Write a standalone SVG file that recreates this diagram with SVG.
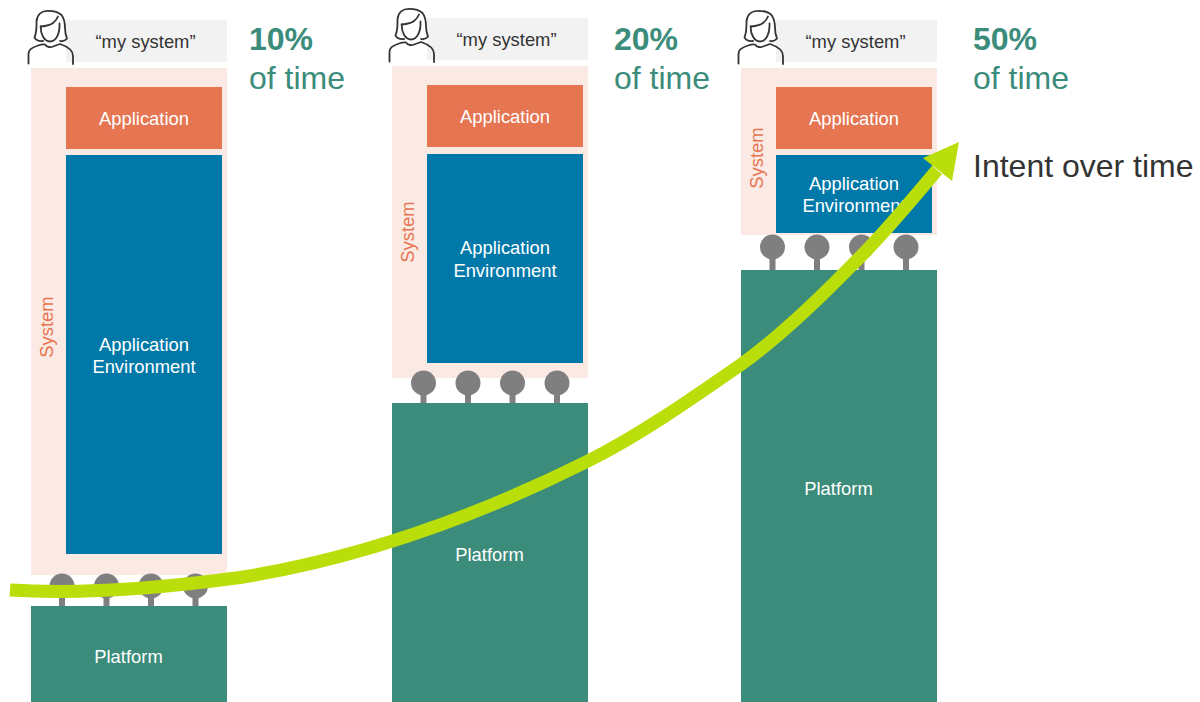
<svg xmlns="http://www.w3.org/2000/svg" width="1200" height="702" viewBox="0 0 1200 702">
<defs>
<style>
text{font-family:"Liberation Sans",Arial,sans-serif}
.l{font-size:18.4px;fill:#fff;text-anchor:middle}
.sys{font-size:18.4px;fill:#e67552;text-anchor:middle}
.q{font-size:18.4px;fill:#333;text-anchor:middle}
.pct{font-size:32px;font-weight:bold;fill:#3b8c7a}
.tm{font-size:32px;fill:#3b8c7a}
.bg{fill:#fbe9e3}.app{fill:#e67552}.env{fill:#0079a8}.pf{fill:#3b8c7a}.lab{fill:#f2f2f2}
.pin{fill:#7f7f7f}
.p{fill:none;stroke:#333;stroke-width:1.8;stroke-linecap:round;stroke-linejoin:round}
</style>
<g id="pins"><circle cx="0" cy="0" r="12.5" class="pin"/><rect x="-3" y="10" width="6" height="13" class="pin"/>
<circle cx="44.500" cy="0" r="12.500" class="pin"/><rect x="41.500" y="10" width="6" height="13" class="pin"/>
<circle cx="89" cy="0" r="12.500" class="pin"/><rect x="86" y="10" width="6" height="13" class="pin"/>
<circle cx="133.500" cy="0" r="12.500" class="pin"/><rect x="130.500" y="10" width="6" height="13" class="pin"/></g>
<g id="person">
<path class="p" d="M28.500 63.500V54C28.500 50 31 48 38 45.500C41 44.500 43 44 45 44.500C47 47.500 51 47.500 53 46.500L60 44C66 46 73 50 73 56V64"/>
<path class="p" d="M43 41C39 41.500 36 40 34.500 37.500C37 31 36.500 26 36.500 21.500C37 14 42 10.800 48 10.800C54 10.800 58 11.500 61.500 15C64.500 19 65 24 65 28C65 32 66 36 67 38.500C65 41 62 41.500 60 41"/>
<path class="p" d="M40.700 26.500C40.500 34 44 41.500 50 41.500C56 41.500 60 34 59.500 23.500"/>
<path class="p" d="M40.700 26.500C46 26 50 25.500 53 23C55.500 21 57 19 58 16.500"/>
</g>
</defs>
<g id="col1">
<rect id="n1-label" x="66" y="20" width="161" height="42" class="lab"/><text class="q" x="145.500" y="48">“my system”</text>
<use href="#person"/>
<rect x="31" y="68" width="196" height="507" class="bg"/>
<rect x="66" y="87" width="156" height="62" class="app"/><text class="l" x="144" y="125">Application</text>
<rect x="66" y="155" width="156" height="399" class="env"/><text class="l" x="144" y="351">Application</text><text class="l" x="144" y="373">Environment</text>
<text class="sys" transform="translate(53 327) rotate(-90)">System</text>
<use href="#pins" x="62" y="586"/>
<rect x="31" y="606" width="196" height="96" class="pf"/><text class="l" x="128.500" y="663">Platform</text>
<text class="pct" x="249" y="50">10%</text><text class="tm" x="249" y="89">of time</text>
</g>
<g id="col2">
<rect x="427" y="18" width="161" height="42" class="lab"/><text class="q" x="506.500" y="46">“my system”</text>
<use href="#person" x="361" y="-2"/>
<rect x="392" y="66" width="196" height="312" class="bg"/>
<rect x="427" y="85" width="156" height="62" class="app"/><text class="l" x="505" y="123">Application</text>
<rect x="427" y="154" width="156" height="209" class="env"/><text class="l" x="505" y="254">Application</text><text class="l" x="505" y="277">Environment</text>
<text class="sys" transform="translate(414 232) rotate(-90)">System</text>
<use href="#pins" x="423.500" y="383"/>
<rect x="392" y="403" width="196" height="299" class="pf"/><text class="l" x="489.500" y="561">Platform</text>
<text class="pct" x="614" y="50">20%</text><text class="tm" x="614" y="89">of time</text>
</g>
<g id="col3">
<rect x="776" y="20" width="161" height="42" class="lab"/><text class="q" x="855.500" y="48">“my system”</text>
<use href="#person" x="710"/>
<rect x="741" y="68" width="196" height="167" class="bg"/>
<rect x="776" y="87" width="156" height="62" class="app"/><text class="l" x="854" y="125">Application</text>
<rect x="776" y="155" width="156" height="78" class="env"/><text class="l" x="854" y="190">Application</text><text class="l" x="854" y="212">Environment</text>
<text class="sys" transform="translate(763 158) rotate(-90)">System</text>
<use href="#pins" x="772.500" y="247"/>
<rect x="741" y="270" width="196" height="432" class="pf"/><text class="l" x="838.500" y="495">Platform</text>
<text class="pct" x="973" y="50">50%</text><text class="tm" x="973" y="89">of time</text>
</g>
<g id="connectors">
<path d="M10 590C90 595 170 587 240 577.500C356 559 472 519 588 461C639 435.500 690 400 741 364.500C781 336 820 298 856 261C882 236 911 201 937 170" fill="none" stroke="#b9de0a" stroke-width="13"/>
<path d="M959 142L923 158L952 181Z" fill="#b9de0a"/>
</g>
<text id="intent" x="973" y="177" font-size="32" fill="#333">Intent over time</text>
</svg>
